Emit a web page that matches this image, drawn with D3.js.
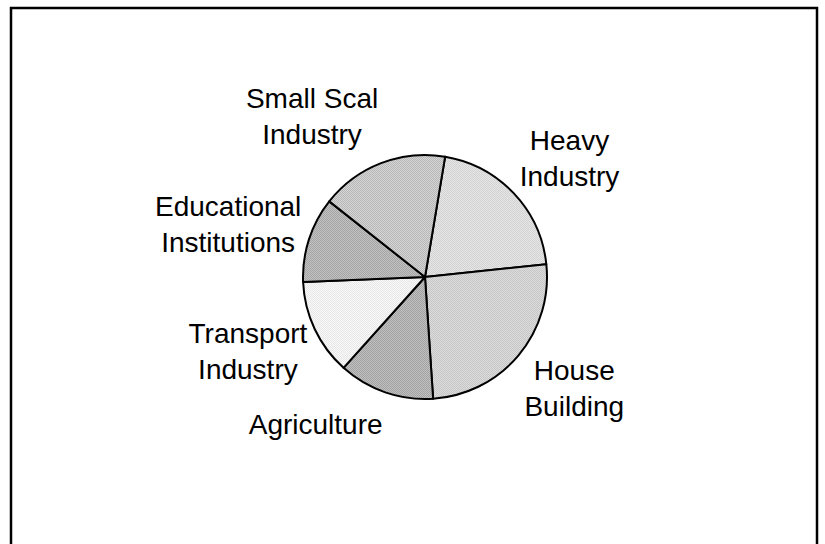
<!DOCTYPE html>
<html>
<head>
<meta charset="utf-8">
<script src="https://cdn.jsdelivr.net/npm/d3@7"></script>
<style>
  body { margin: 0; background: #fff; }
  svg { display: block; }
  text { font-family: "Liberation Sans", Arial, sans-serif; fill: #000; }
</style>
</head>
<body>
<div id="chart"></div>
<script>
// PIE CHART - share of outlay by sector

// Data
var categories = [
    ["Heavy", "Industry"],
    ["House", "Building"],
    ["Agriculture"],
    ["Transport", "Industry"],
    ["Educational", "Institutions"],
    ["Small Scal", "Industry"]
];
var shares = [20.7, 25.6, 12.7, 12.7, 11.3, 17.0];        // percent
var shades = [["#d2d2d2", "#e6e6e6"],                      // two greys per slice -> dotted look
              ["#c6c6c6", "#dcdcdc"],
              ["#a2a2a2", "#c0c0c0"],
              ["#e8e8e8", "#f8f8f8"],
              ["#a4a4a4", "#c2c2c2"],
              ["#b6b6b6", "#d6d6d6"]];

// Chart variables
var width = 825, height = 544;
var cx = 425, cy = 277, radius = 122;
var startDeg = 9.5;                                        // first slice starts a little right of 12 o'clock

var svg = d3.select("#chart").append("svg")
    .attr("width", width)
    .attr("height", height);

// Patterns for the dotted fills
var defs = svg.append("defs");
shades.forEach(function(s, i) {
    var p = defs.append("pattern")
        .attr("id", "pat" + i)
        .attr("patternUnits", "userSpaceOnUse")
        .attr("width", 2).attr("height", 2);
    p.append("rect").attr("width", 2).attr("height", 2).attr("fill", s[1]);
    p.append("rect").attr("width", 1).attr("height", 1).attr("fill", s[0]);
    p.append("rect").attr("x", 1).attr("y", 1).attr("width", 1).attr("height", 1).attr("fill", s[0]);
});

// Frame
svg.append("rect")
    .attr("x", 11).attr("y", 8)
    .attr("width", 806).attr("height", 600)
    .attr("fill", "none")
    .attr("stroke", "#000")
    .attr("stroke-width", 2.5);

// Pie layout
var pie = d3.pie()
    .sort(null)
    .startAngle(startDeg * Math.PI / 180)
    .endAngle((startDeg + 360) * Math.PI / 180);

var arcs = pie(shares);

var arc = d3.arc().innerRadius(0).outerRadius(radius);

var g = svg.append("g").attr("transform", "translate(" + cx + "," + cy + ")");

g.selectAll("path")
    .data(arcs)
    .enter()
    .append("path")
    .attr("d", arc)
    .attr("fill", function(d, i) { return "url(#pat" + i + ")"; })
    .attr("stroke", "#000")
    .attr("stroke-width", 2)
    .attr("stroke-linejoin", "round");

// Labels - text box sits beside the rim on the side the slice points to
var fontSize = 28, lineH = 36, gap = 8;

var labels = g.selectAll("text.lbl")
    .data(arcs)
    .enter()
    .append("text")
    .attr("class", "lbl")
    .attr("text-anchor", "middle")
    .style("font-size", fontSize + "px");

labels.each(function(d, i) {
    var t = d3.select(this);
    var lines = categories[i];
    lines.forEach(function(line, k) {
        t.append("tspan").attr("x", 0).attr("y", k * lineH).text(line);
    });
    var bb = this.getBBox();
    var mid = (d.startAngle + d.endAngle) / 2;
    var sx = Math.sin(mid), sy = -Math.cos(mid);
    var halfH = (lines.length - 1) * lineH / 2 + 13;
    var bx = (radius + gap) * sx + (sx < 0 ? -1 : 1) * bb.width / 2;
    var by = (radius + 20 + halfH) * sy;
    // shift so the visual centre of the text block sits at (bx, by)
    var vc = (lines.length - 1) * lineH / 2 - 10;
    t.attr("transform", "translate(" + bx + "," + (by - vc) + ")");
});
</script>
</body>
</html>
